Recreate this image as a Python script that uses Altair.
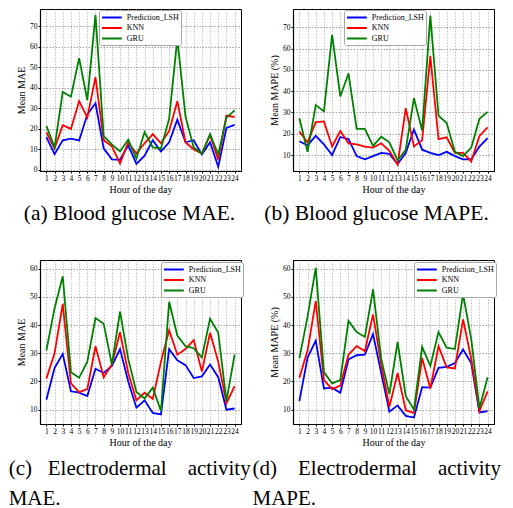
import altair as alt
import pandas as pd

hours = list(range(1, 25))
series_names = ["Prediction_LSH", "KNN", "GRU"]
series_colors = ["#0000ff", "#ff0000", "#008000"]

# (a) Blood glucose MAE
a_lsh = [16, 7.7, 14.4, 15.3, 14.4, 27, 32.5, 10.5, 5.2, 5, 12, 3, 7, 14.5, 9, 13.5, 24.5, 13.5, 14.5, 7.5, 13.5, 1.5, 20.5, 22]
a_knn = [18.3, 10.5, 21.8, 20, 33.5, 25.5, 45.2, 14.5, 11.5, 3.2, 13.5, 8, 13, 17.5, 13, 19, 33.5, 13.5, 10, 8, 17, 5, 26.5, 25.8]
a_gru = [21.5, 11, 38, 35.7, 54.5, 34, 75.5, 16.5, 12.5, 9, 14.8, 5.5, 18.5, 11, 10.5, 25, 64, 26, 11, 8, 17.5, 7.5, 25.5, 29]

# (b) Blood glucose MAPE
b_lsh = [16.5, 14.5, 19, 15, 10, 18.5, 17.5, 9.5, 8, 9.5, 11, 10.5, 5.8, 11, 22, 12.5, 11, 10, 11.5, 9.5, 8, 8, 14, 18]
b_knn = [21, 16, 25.5, 25.8, 14, 21.3, 15.5, 15, 14, 13.5, 15.5, 12, 5.5, 32, 14, 17, 56.5, 17.5, 18.3, 11, 11, 7, 19, 23]
b_gru = [27.3, 11.5, 33.5, 30.5, 66.5, 37.5, 48.3, 22.3, 22.3, 14.3, 18.6, 16, 7.5, 12.5, 36.7, 21.5, 75.5, 28.5, 25, 11.5, 9.5, 13.5, 27, 30.3]

# (c) Electrodermal activity MAE
c_lsh = [13.5, 24.8, 29.8, 16.5, 16, 14.8, 24.5, 23, 25.5, 31.5, 20, 10.7, 13.3, 8.8, 8.3, 31.5, 27.5, 25.8, 21.2, 21.8, 26, 21.5, 10, 10.4]
c_knn = [21, 30, 47.5, 19.3, 16.2, 17.3, 32.5, 21.5, 26, 37.5, 23, 13.3, 16, 13.8, 27, 38.2, 29.5, 31.5, 34.7, 23.5, 37.3, 27, 12.3, 18.3]
c_gru = [31, 46, 57.3, 23.3, 21.3, 27, 42.5, 40.5, 26, 44.8, 28, 16.3, 14, 17.8, 9.5, 48.3, 36.3, 32.5, 31.8, 28.5, 42.3, 37.3, 13, 29.5]

# (d) Electrodermal activity MAPE
d_lsh = [13, 28.5, 34.5, 17.5, 17.8, 16, 27.8, 29.3, 29.5, 36.8, 23, 9.3, 11.5, 7.8, 7.2, 18, 17.8, 24.8, 25.2, 26.5, 31.3, 26.5, 9, 9.5]
d_knn = [21.3, 31, 48.5, 20.5, 17.3, 18.5, 29.5, 32.5, 30.8, 43.8, 26, 11, 23, 9.8, 8.8, 28.3, 17.5, 32.5, 25, 24.6, 42, 28, 9.5, 16.5]
d_gru = [28.2, 43, 60.3, 23.3, 19.3, 20.5, 41.5, 37.5, 35.8, 52.7, 28, 15.5, 34, 14.8, 10, 32.3, 25.5, 37.5, 32, 31.5, 51, 35, 10.5, 21.5]

NB = "\u00a0"
SERIF = "Liberation Serif"


def frame(lsh, knn, gru):
    rows = []
    for name, vals in zip(series_names, [lsh, knn, gru]):
        for h, v in zip(hours, vals):
            rows.append({"hour": h, "value": v, "series": name})
    return pd.DataFrame(rows)


def panel(df, ytitle, ydom, yvals, lx, ly, title, height):
    return alt.Chart(df).mark_line(strokeWidth=1.8, clip=True).encode(
        x=alt.X("hour:Q",
                scale=alt.Scale(domain=[0.22, 24.78], nice=False, zero=False),
                axis=alt.Axis(values=hours, title="Hour of the day", format="d",
                              labelOverlap=False, labelFlush=False,
                              labelFont=SERIF, titleFont=SERIF,
                              gridColor="#b5b5b5")),
        y=alt.Y("value:Q",
                scale=alt.Scale(domain=ydom, nice=False, zero=False),
                axis=alt.Axis(values=yvals, title=ytitle, format="d",
                              labelFont=SERIF, titleFont=SERIF,
                              labelOverlap=False, labelFlush=False)),
        color=alt.Color("series:N",
                        scale=alt.Scale(domain=series_names, range=series_colors),
                        legend=alt.Legend(title=None, orient="none",
                                          legendX=lx, legendY=ly,
                                          labelFont=SERIF)),
    ).properties(width=201, height=height, title=title)


ta = alt.TitleParams(text="(a) Blood glucose MAE.", orient="bottom", anchor="middle",
                     frame="group", dx=-11, offset=8, fontSize=21.5)
tb = alt.TitleParams(text="(b) Blood glucose MAPE.", orient="bottom", anchor="middle",
                     frame="group", dx=-17, offset=8, fontSize=21.5)
tc = alt.TitleParams(text=["(c)" + NB * 3 + "Electrodermal" + NB * 4 + "activity", "MAE."],
                     orient="bottom", anchor="start", align="left", frame="group",
                     dx=-31.3, offset=10, lineHeight=30)
td = alt.TitleParams(text=["(d)" + NB * 4 + "Electrodermal" + NB * 4 + "activity", "MAPE."],
                     orient="bottom", anchor="start", align="left", frame="group",
                     dx=-40.5, offset=10, lineHeight=30)

pa = panel(frame(a_lsh, a_knn, a_gru), "Mean MAE", [-0.5, 78.4], list(range(0, 80, 10)), 59, 1, ta, 162)
pb = panel(frame(b_lsh, b_knn, b_gru), "Mean MAPE (%)", [2.5, 78.6], list(range(10, 80, 10)), 51, 1, tb, 162)
pc = panel(frame(c_lsh, c_knn, c_gru), "Mean MAE", [4.9, 63.1], list(range(10, 70, 10)), 121, 2, tc, 164)
pd_ = panel(frame(d_lsh, d_knn, d_gru), "Mean MAPE (%)", [4.9, 63.1], list(range(10, 70, 10)), 121, 2, td, 164)

chart = alt.concat(
    pa, pb, pc, pd_, columns=2,
    spacing=alt.RowColnumber(row=89, column=52),
    bounds="flush",
).resolve_scale(color="independent").resolve_legend(color="independent").properties(
    padding=0
).configure(
    font=SERIF
).configure_view(
    stroke="black", strokeWidth=1
).configure_axis(
    domainColor="black", domainWidth=1.2, tickColor="black", tickSize=2,
    labelFont=SERIF, labelFontSize=7.5, labelColor="black", labelPadding=1,
    titleFont=SERIF, titleFontSize=10, titleFontWeight="normal",
    titleColor="black", titlePadding=3,
    gridColor="#8a8a8a", gridDash=[1.5, 1.5], gridWidth=0.8,
).configure_legend(
    symbolType="M-1,0L3.4,0", symbolStrokeWidth=2, symbolSize=81,
    labelFont=SERIF, labelFontSize=8, labelColor="black",
    padding=2, strokeColor="#a8a8a8", strokeWidth=1, fillColor="white", cornerRadius=2,
    labelOffset=14.8, rowPadding=0.5,
).configure_title(
    font=SERIF, fontSize=21, fontWeight="normal", color="black"
)

chart.save("out.html", embed_options={"renderer": "svg", "actions": False})
